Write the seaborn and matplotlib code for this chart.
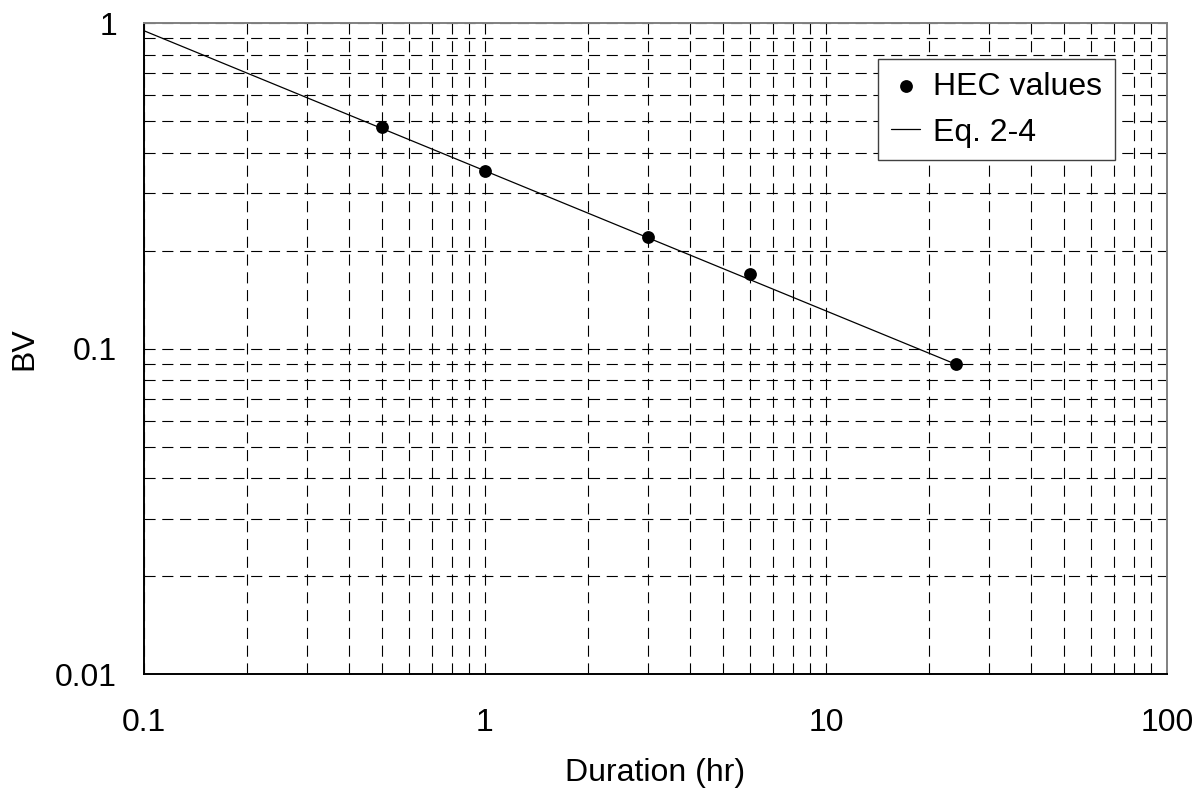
import numpy as np
import pandas as pd
import matplotlib
matplotlib.use('Agg')
import matplotlib.pyplot as plt
import matplotlib.ticker as mtick
import seaborn as sns

# HEC values
duration_hr = [0.5, 1, 3, 6, 24]
bv_values = [0.48, 0.35, 0.22, 0.17, 0.09]

# Eq. 2-4 line endpoints (straight in log-log space)
eq_duration = [0.1, 24]
eq_bv = [0.947, 0.0896]

x_ticks = [0.1, 1, 10, 100]
x_tick_labels = ['0.1', '1', '10', '100']
y_ticks = [0.01, 0.1, 1]
y_tick_labels = ['0.01', '0.1', '1']

sns.set_style('white')
plt.rcParams['font.family'] = ['Liberation Sans', 'DejaVu Sans']
plt.rcParams['text.color'] = 'black'
plt.rcParams['axes.labelcolor'] = 'black'
plt.rcParams['xtick.color'] = 'black'
plt.rcParams['ytick.color'] = 'black'

df_pts = pd.DataFrame({'Duration': duration_hr, 'BV': bv_values})
df_eq = pd.DataFrame({'Duration': eq_duration, 'BV': eq_bv})

fig = plt.figure(figsize=(12.03, 7.95), dpi=100)
ax = fig.add_axes([0.1197, 0.152, 0.8503, 0.819])

ax.set_xscale('log')
ax.set_yscale('log')
ax.set_xlim(0.1, 100)
ax.set_ylim(0.01, 1)

# grid: dashed, major + minor, both axes
dash = (0, (10, 6))
ax.grid(which='both', color='black', linestyle=dash, linewidth=0.8, zorder=0)
ax.set_axisbelow(True)

sns.lineplot(data=df_eq, x='Duration', y='BV', color='black', linewidth=0.9,
             label='Eq. 2-4', ax=ax, zorder=3)
sns.scatterplot(data=df_pts, x='Duration', y='BV', color='black', s=85,
                edgecolor='black', linewidth=0, label='HEC values', ax=ax, zorder=4)

ax.set_xticks(x_ticks)
ax.set_xticklabels(x_tick_labels)
ax.set_yticks(y_ticks)
ax.set_yticklabels(y_tick_labels)
ax.xaxis.set_minor_locator(mtick.LogLocator(base=10, subs=np.arange(2, 10), numticks=20))
ax.yaxis.set_minor_locator(mtick.LogLocator(base=10, subs=np.arange(2, 10), numticks=20))
ax.xaxis.set_minor_formatter(mtick.NullFormatter())
ax.yaxis.set_minor_formatter(mtick.NullFormatter())

fs = 23
ax.tick_params(which='major', axis='x', direction='inout', length=13, width=1.1,
               color='black', labelsize=fs, pad=18)
ax.tick_params(which='major', axis='y', direction='inout', length=13, width=1.1,
               color='black', labelsize=fs, pad=13)
ax.tick_params(which='minor', length=0)

for side in ['left', 'bottom']:
    ax.spines[side].set_color('black')
    ax.spines[side].set_linewidth(1.4)
for side in ['top', 'right']:
    ax.spines[side].set_color('#808080')
    ax.spines[side].set_linewidth(1.4)

ax.set_xlabel('Duration (hr)', fontsize=fs, labelpad=14)
ax.set_ylabel('BV', fontsize=fs, labelpad=11)

handles, labels = ax.get_legend_handles_labels()
order = [labels.index('HEC values'), labels.index('Eq. 2-4')]
leg = ax.legend([handles[i] for i in order], [labels[i] for i in order],
                loc='upper left', bbox_to_anchor=(0.718, 0.945), borderaxespad=0,
                fontsize=fs, frameon=True, fancybox=False, framealpha=1,
                edgecolor='#404040', handlelength=0.9, handletextpad=0.4,
                borderpad=0.4, labelspacing=0.5, markerscale=1.0)
leg.get_frame().set_linewidth(1.0)

fig.savefig('out.png', dpi=100)
